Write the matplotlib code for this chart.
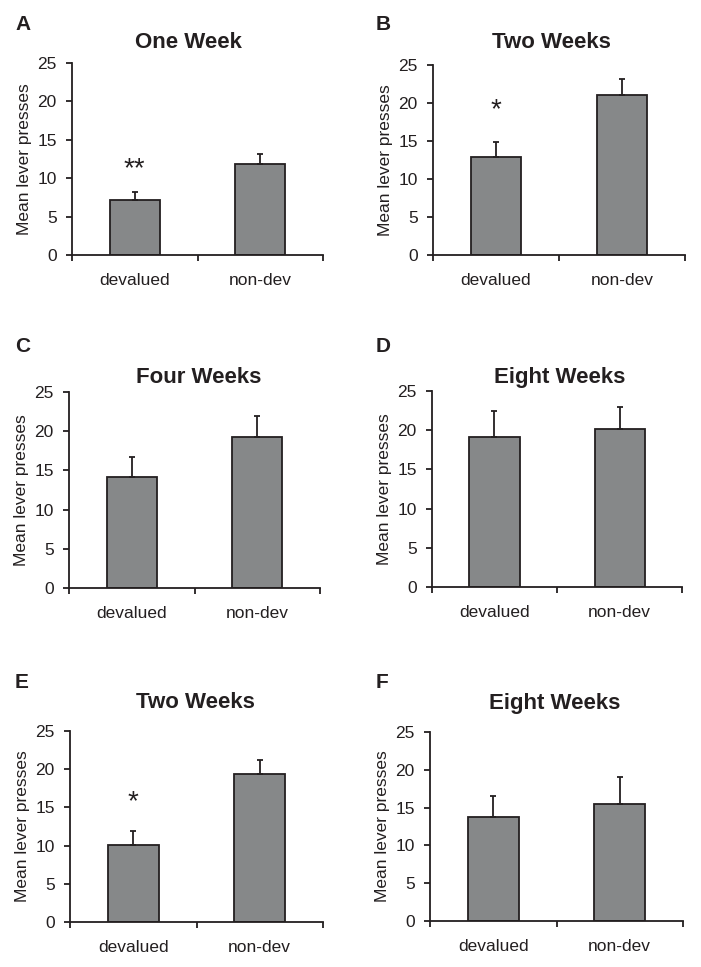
"""Six-panel devaluation bar charts (mean lever presses)."""

import numpy as np
import matplotlib.pyplot as plt

plt.rcParams["font.family"] = ["Liberation Sans", "DejaVu Sans"]

categories = ["devalued", "non-dev"]
panel_letters = ["A", "B", "C", "D", "E", "F"]
panel_titles = ["One Week", "Two Weeks", "Four Weeks", "Eight Weeks",
                "Two Weeks", "Eight Weeks"]
means = [
    [7.2, 11.9],
    [12.9, 21.0],
    [14.1, 19.2],
    [19.1, 20.2],
    [10.1, 19.4],
    [13.7, 15.5],
]
errors = [
    [1.0, 1.3],
    [2.0, 2.2],
    [2.6, 2.7],
    [3.4, 2.7],
    [1.8, 1.8],
    [2.9, 3.5],
]
# significance marks: (panel index, category index, y value, label)
stars = [(0, 0, 11.2, "**"), (1, 0, 19.0, "*"), (4, 0, 15.7, "*")]
yticks = [0, 5, 10, 15, 20, 25]

W, H = 701, 967
# plot areas in pixels: left, right, top, bottom
boxes = [
    (72, 323, 63, 255),
    (433, 685, 65, 255),
    (69, 320, 392, 588),
    (432, 682, 391, 587),
    (70, 323, 731, 922),
    (430, 683, 732, 921),
]
title_pos = [(188, 42), (551, 42), (199, 377), (560, 377), (195, 703), (555, 703)]
letter_pos = [(15, 24), (376, 24), (15, 346), (376, 346), (15, 683), (376, 683)]

ink = "#231f20"
bar_color = "#868889"

fig = plt.figure(figsize=(W / 100, H / 100), dpi=100)
x = np.arange(len(categories))

axes = []
for i, (l, r, t, b) in enumerate(boxes):
    ax = fig.add_axes([l / W, 1 - b / H, (r - l) / W, (b - t) / H])
    axes.append(ax)
    ax.bar(x, means[i], width=0.4, color=bar_color, edgecolor=ink,
           linewidth=1.3, zorder=2)
    ax.errorbar(x, means[i], yerr=[np.zeros(2), errors[i]], fmt="none",
                ecolor=ink, elinewidth=1.3, capsize=2.5, capthick=1.3,
                zorder=3)
    ax.set_xlim(-0.5, 1.5)
    ax.set_ylim(0, 25)
    ax.set_yticks(yticks)
    ax.set_xticks(x)
    ax.set_xticklabels(categories)
    ax.set_xticks([-0.5, 0.5, 1.5], minor=True)
    ax.tick_params(axis="x", which="major", length=0, pad=13,
                   labelsize=12.5, labelcolor=ink)
    ax.tick_params(axis="x", which="minor", length=4, width=1.3, color=ink)
    ax.tick_params(axis="y", length=4, width=1.3, color=ink, pad=7,
                   labelsize=12.5, labelcolor=ink)
    ax.set_ylabel("Mean lever presses", fontsize=12.5, color=ink, labelpad=4)
    for side in ("top", "right"):
        ax.spines[side].set_visible(False)
    for side in ("left", "bottom"):
        ax.spines[side].set_linewidth(1.3)
        ax.spines[side].set_color(ink)

    tx, ty = title_pos[i]
    fig.text(tx / W, 1 - ty / H, panel_titles[i], ha="center", va="center",
             fontsize=16, fontweight="bold", color=ink)
    lx, ly = letter_pos[i]
    fig.text(lx / W, 1 - ly / H, panel_letters[i], ha="left", va="center",
             fontsize=15, fontweight="bold", color=ink)

for pi, ci, yv, label in stars:
    axes[pi].text(x[ci], yv, label, ha="center", va="center", fontsize=20,
                  color=ink)

fig.savefig("out.png", dpi=100)
